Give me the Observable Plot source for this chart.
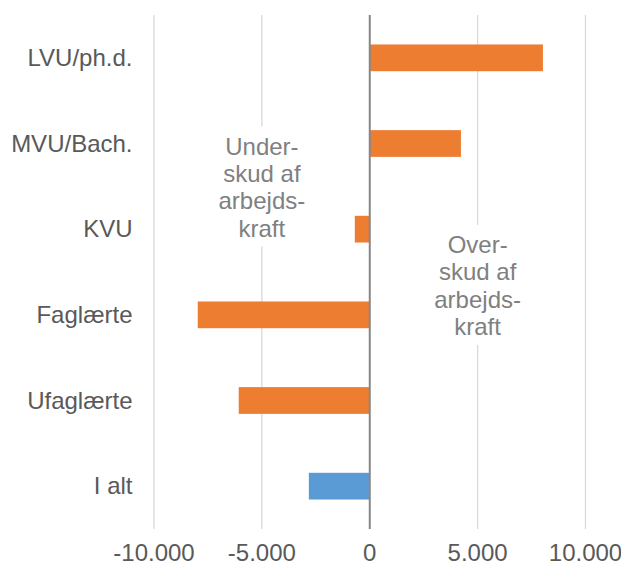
<!DOCTYPE html>
<html>
<head>
<meta charset="utf-8">
<script src="https://cdn.jsdelivr.net/npm/d3@7"></script>
<script src="https://cdn.jsdelivr.net/npm/@observablehq/plot@0.6"></script>
<style>
  html, body { margin: 0; padding: 0; background: #fff; }
  #chart { width: 621px; height: 566px; }
</style>
</head>
<body>
<div id="chart"></div>
<script>
// ---- data ----
const categories = ["LVU/ph.d.", "MVU/Bach.", "KVU", "Faglærte", "Ufaglærte", "I alt"];
const values = [8050, 4250, -670, -7950, -6050, -2800];
const xTicks = [-10000, -5000, 0, 5000, 10000];
const annotationTexts = ["Under-\nskud af\narbejds-\nkraft", "Over-\nskud af\narbejds-\nkraft"];
const annotationX = [-5000, 5000];
const annotationY = [1.5, 2.65];

// ---- build ----
const data = categories.map((c, i) => ({category: c, index: i, value: values[i]}));
const notes = annotationTexts.map((t, i) => ({text: t, x: annotationX[i], y: annotationY[i]}));
const daFormat = d3.formatLocale({decimal: ",", thousands: ".", grouping: [3], currency: ["", " kr."], minus: "-"}).format(",d");

const ORANGE = "#ed7d31", BLUE = "#5b9bd5";
const half = 0.156;

const chart = Plot.plot({
  width: 621,
  height: 566,
  marginLeft: 153.5,
  marginRight: 36,
  marginTop: 15,
  marginBottom: 37,
  style: {fontFamily: "'Liberation Sans', Arial, sans-serif", fontSize: "24px", color: "#595959", background: "#fff"},
  x: {domain: [-10000, 10000]},
  y: {domain: [-0.5, 5.5], reverse: true},
  marks: [
    Plot.ruleX(xTicks.filter(t => t !== 0), {stroke: "#d9d9d9", strokeWidth: 1.3}),
    Plot.rectX(data, {
      x1: 0, x2: "value",
      y1: d => d.index - half, y2: d => d.index + half,
      fill: d => d.category === "I alt" ? BLUE : ORANGE
    }),
    Plot.rect(notes, {x1: d => d.x - 1400, x2: d => d.x + 1400, y1: d => d.y - 0.7, y2: d => d.y + 0.7, fill: "white"}),
    Plot.text(notes, {x: "x", y: "y", text: "text", fill: "#808080", fontSize: 24, lineHeight: 1.14, textAnchor: "middle"}),
    Plot.ruleX([0], {stroke: "#868686", strokeWidth: 2}),
    Plot.axisX({ticks: xTicks, tickFormat: daFormat, tickSize: 0, tickPadding: 14, fontSize: 24, label: null}),
    Plot.axisY({ticks: d3.range(categories.length), tickFormat: i => categories[i], tickSize: 0, tickPadding: 21.5, fontSize: 24, label: null})
  ]
});
document.getElementById("chart").appendChild(chart);
</script>
</body>
</html>
